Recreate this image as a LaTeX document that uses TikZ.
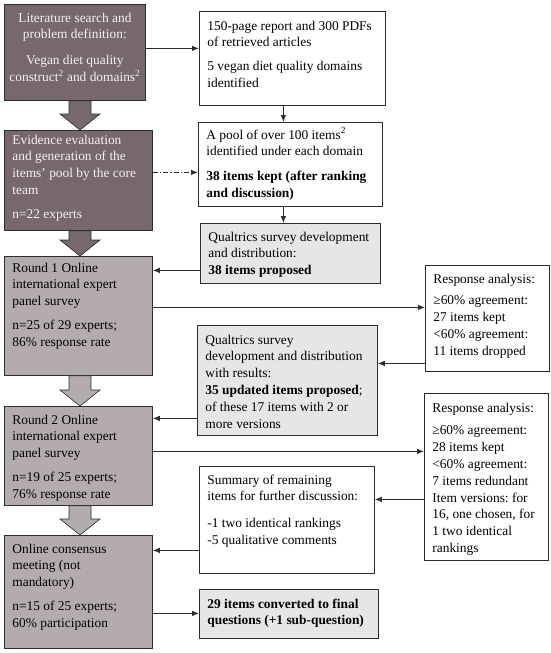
\documentclass[tikz,border=0pt]{standalone}
\usepackage{fontspec}
\setmainfont{Liberation Serif}
\usetikzlibrary{arrows.meta}
\usetikzlibrary{calc}

\definecolor{darkfill}{RGB}{119,105,107}
\definecolor{midfill}{RGB}{180,172,172}
\definecolor{lightfill}{RGB}{230,230,230}
\definecolor{edgegray}{RGB}{45,45,45}
\definecolor{lighttext}{RGB}{242,242,242}

\frenchspacing
\newcommand{\cell}[4][6pt]{\parbox[c][#3pt][t]{#2pt}{\raggedright\vspace*{#1}\strut #4}}
\newcommand{\gap}[1][7pt]{\par\vspace{#1}}

\tikzset{panel/.style={draw=edgegray, line width=0.8pt, inner xsep=8pt, inner ysep=0pt, anchor=north west},
  darkpanel/.style={panel, fill=darkfill, text=lighttext},
  midpanel/.style={panel, fill=midfill},
  lightpanel/.style={panel, fill=lightfill},
  plainpanel/.style={panel, fill=white},
  link/.style={draw=edgegray, line width=0.8pt, -{Latex[length=7pt,width=5.5pt]}}}

\begin{document}
\begin{tikzpicture}[x=1pt,y=-1pt,font=\fontsize{13.4}{16.8}\selectfont]
      \useasboundingbox (0,0) rectangle (550,653);

      % left column
      \node[darkpanel, inner xsep=2pt] (lit) at (4,4) {\cell{137}{96}{\centering Literature search and\\ problem definition:\gap[9pt] Vegan diet quality\\ construct\textsuperscript{2} and domains\textsuperscript{2}}};
      \node[darkpanel] (evid) at (4,130) {\cell[2pt]{132}{100}{Evidence evaluation\\ and generation of the\\ items' pool by the core\\ team\gap n=22 experts}};
      \node[midpanel] (round1) at (4,256) {\cell[4pt]{132}{119}{Round 1 Online\\ international expert\\ panel survey\gap n=25 of 29 experts;\\ 86\% response rate}};
      \node[midpanel] (round2) at (4,406) {\cell{132}{99}{Round 2 Online\\ international expert\\ panel survey\gap n=19 of 25 experts;\\ 76\% response rate}};
      \node[midpanel] (meet) at (4,535) {\cell{132}{113}{Online consensus\\ meeting (not\\ mandatory)\gap n=15 of 25 experts;\\ 60\% participation}};

      % middle column
      \node[plainpanel] (rep) at (199,11) {\cell[7pt]{170}{94}{150-page report and 300 PDFs\\ of retrieved articles\gap 5 vegan diet quality domains\\ identified}};
      \node[plainpanel] (pool) at (198,122) {\cell[5pt]{168}{84}{A pool of over 100 items\textsuperscript{2}\\ identified under each domain\gap[8pt] \textbf{38 items kept (after ranking\\ and discussion)}}};
      \node[lightpanel] (qual1) at (200,223) {\cell{164}{60}{Qualtrics survey development\\ and distribution:\\ \textbf{38 items proposed}}};
      \node[lightpanel] (qual2) at (197,325) {\cell[7pt]{164}{110}{Qualtrics survey\\ development and distribution\\ with results:\\ \textbf{35 updated items proposed};\\ of these 17 items with 2 or\\ more versions}};
      \node[plainpanel] (summ) at (199,466) {\cell{159}{107}{Summary of remaining\\ items for further discussion:\gap[10pt] -1 two identical rankings\\ -5 qualitative comments}};
      \node[lightpanel] (final) at (199,589) {\cell[7pt]{163}{49}{\textbf{29 items converted to final\\ questions (+1 sub-question)}}};

      % right column
      \node[plainpanel] (ra1) at (425,265) {\cell{108}{106}{Response analysis:\gap[5pt] ≥60\% agreement:\\ 27 items kept\\ <60\% agreement:\\ 11 items dropped}};
      \node[plainpanel] (ra2) at (424,393) {\cell[7pt]{108}{167}{Response analysis:\gap[6pt] ≥60\% agreement:\\ 28 items kept\\ <60\% agreement:\\ 7 items redundant\\ Item versions: for\\ 16, one chosen, for\\ 1 two identical\\ rankings}};

      % big arrows down the left column
      \coordinate (axis) at (80,0);
      \foreach \from/\to/\col in {lit/evid/darkfill, evid/round1/darkfill, round1/round2/midfill, round2/meet/midfill}
        \filldraw[fill=\col, draw=edgegray, line width=0.6pt]
          let \p1 = (axis |- \from.south), \p2 = (axis |- \to.north) in
          (\x1-11pt,\y1) -- (\x1+11pt,\y1) -- (\x1+11pt,\y2+16pt) -- (\x1+20pt,\y2+16pt)
          -- (\x1,\y2) -- (\x1-20pt,\y2+16pt) -- (\x1-11pt,\y2+16pt) -- cycle;

      % connectors
      \draw[link] ([yshift=4pt]lit.east) -- ([yshift=4pt]lit.east -| rep.west);
      \draw[link] ([xshift=-9pt]rep.south) -- ([xshift=-9pt]rep.south |- pool.north);
      \draw[link, dash pattern=on 5pt off 2pt on 1.5pt off 2pt] ([yshift=8pt]evid.east) -- ([yshift=8pt]evid.east -| pool.west);
      \draw[link] ([xshift=-7pt]pool.south) -- ([xshift=-7pt]pool.south |- qual1.north);
      \draw[link] ([yshift=-17pt]qual1.west) -- ([yshift=-17pt]qual1.west -| round1.east);
      \draw[link] ([yshift=8.5pt]round1.east) -- ([yshift=8.5pt]round1.east -| ra1.west);
      \draw[link] ([yshift=-45pt]ra1.west) -- ([yshift=-45pt]ra1.west -| qual2.east);
      \draw[link] ([yshift=-38pt]qual2.west) -- ([yshift=-38pt]qual2.west -| round2.east);
      \draw[link] ([yshift=4.5pt]round2.east) -- ([yshift=4.5pt]round2.east -| ra2.west);
      \draw[link] ([yshift=-22.5pt]ra2.west) -- ([yshift=-22.5pt]ra2.west -| summ.east);
      \draw[link] ([yshift=-30.5pt]summ.west) -- ([yshift=-30.5pt]summ.west -| meet.east);
      \draw[link] ([yshift=-21.5pt]meet.east) -- ([yshift=-21.5pt]meet.east -| final.west);
    \end{tikzpicture}
\end{document}
